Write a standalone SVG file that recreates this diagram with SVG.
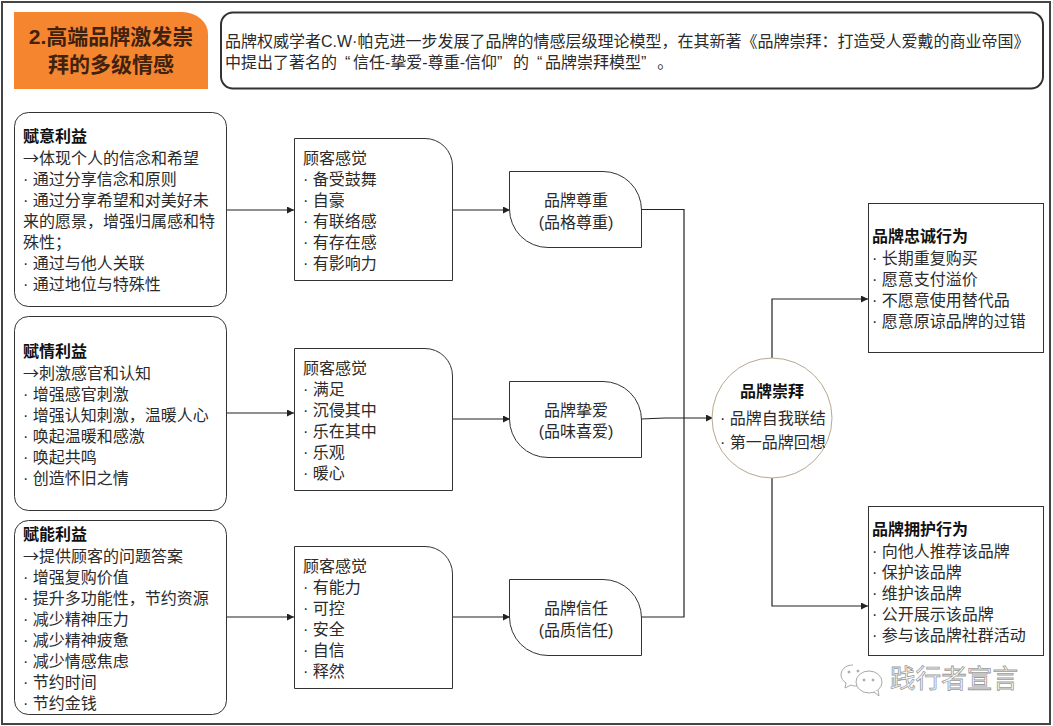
<svg xmlns="http://www.w3.org/2000/svg" width="1053" height="726" viewBox="0 0 1053 726">
<style>
text{font-family:"Liberation Sans","Noto Sans CJK SC",sans-serif;font-size:16px;fill:#2b2b2b}
.b{font-weight:700;fill:#111}
.box{fill:#fff;stroke:#333;stroke-width:1}
.c{fill:none;stroke:#222;stroke-width:1.2}
.t{text-anchor:middle}
.h{font-size:21px;font-weight:700;fill:#40220f;text-anchor:middle}
.r{font-family:"Noto Sans CJK SC",sans-serif}
</style>
<defs><marker id="a" markerWidth="8" markerHeight="8" refX="7" refY="3.500" orient="auto" markerUnits="userSpaceOnUse"><path d="M0 0L7 3.500L0 7z" fill="#222"/></marker></defs>
<rect width="1053" height="726" fill="#fff"/>
<rect x="2" y="2" width="1048" height="722" fill="none" stroke="#444" stroke-width="2"/>
<g id="title"><path d="M14 12H182A26 22 0 0 1 208 34V89H14Z" fill="#f5852f"/>
<text class="h" x="111" y="44">2.高端品牌激发崇</text>
<text class="h" x="111" y="72">拜的多级情感</text></g>
<g id="intro"><rect x="221" y="12.500" width="822" height="76" rx="12" fill="#fff" stroke="#333" stroke-width="2"/>
<text x="225" y="46.500">品牌权威学者C.W·帕克进一步发展了品牌的情感层级理论模型，在其新著《品牌崇拜：打造受人爱戴的商业帝国》</text>
<text x="225" y="68">中提出了著名的<tspan dx="8">“</tspan><tspan dx="2.700">信任-挚爱-尊重-信仰”</tspan><tspan dx="10.700">的</tspan><tspan dx="8">“</tspan><tspan dx="2.700">品牌崇拜模型”</tspan><tspan dx="10.700">。</tspan></text></g>
<g id="connectors">
<path class="c" marker-end="url(#a)" d="M227 210H294"/>
<path class="c" marker-end="url(#a)" d="M452 210H510"/>
<path class="c" marker-end="url(#a)" d="M227 413H294"/>
<path class="c" marker-end="url(#a)" d="M452 419H510"/>
<path class="c" marker-end="url(#a)" d="M227 617H294"/>
<path class="c" marker-end="url(#a)" d="M452 617H510"/>
<path class="c" d="M641 209.500H684V617H641"/>
<path class="c" marker-end="url(#a)" d="M641 419L665 418H713"/>
<path class="c" marker-end="url(#a)" d="M772 358V299H868"/>
<path class="c" marker-end="url(#a)" d="M772 478V606H868"/>
</g>
<g id="n1"><rect class="box" x="14.500" y="112.500" width="212" height="194" rx="14"/>
<text x="23" y="142" class="b">赋意利益</text><text x="23" y="164" class="r">→体现个人的信念和希望</text><text x="23" y="185">· 通过分享信念和原则</text><text x="23" y="206">· 通过分享希望和对美好未</text><text x="23" y="227">来的愿景，增强归属感和特</text><text x="23" y="248">殊性；</text><text x="23" y="269">· 通过与他人关联</text><text x="23" y="290">· 通过地位与特殊性</text></g>
<g id="n2"><rect class="box" x="14.500" y="316.500" width="212" height="194" rx="14"/>
<text x="23" y="357" class="b">赋情利益</text><text x="23" y="379" class="r">→刺激感官和认知</text><text x="23" y="400">· 增强感官刺激</text><text x="23" y="421">· 增强认知刺激，温暖人心</text><text x="23" y="442">· 唤起温暖和感激</text><text x="23" y="463">· 唤起共鸣</text><text x="23" y="484">· 创造怀旧之情</text></g>
<g id="n3"><rect class="box" x="14.500" y="520.500" width="212" height="194" rx="14"/>
<text x="23" y="540" class="b">赋能利益</text><text x="23" y="562" class="r">→提供顾客的问题答案</text><text x="23" y="583">· 增强复购价值</text><text x="23" y="604">· 提升多功能性，节约资源</text><text x="23" y="625">· 减少精神压力</text><text x="23" y="646">· 减少精神疲惫</text><text x="23" y="667">· 减少情感焦虑</text><text x="23" y="688">· 节约时间</text><text x="23" y="709">· 节约金钱</text></g>
<g id="f1"><path class="box" d="M294.500 138.500H425A27.500 27.500 0 0 1 452.500 166V280.500H294.500Z"/>
<text x="303" y="164">顾客感觉</text><text x="303" y="185">· 备受鼓舞</text><text x="303" y="206">· 自豪</text><text x="303" y="227">· 有联络感</text><text x="303" y="248">· 有存在感</text><text x="303" y="269">· 有影响力</text></g>
<g id="f2"><path class="box" d="M294.500 348.500H425A27.500 27.500 0 0 1 452.500 376V490.500H294.500Z"/>
<text x="303" y="374">顾客感觉</text><text x="303" y="395">· 满足</text><text x="303" y="416">· 沉侵其中</text><text x="303" y="437">· 乐在其中</text><text x="303" y="458">· 乐观</text><text x="303" y="479">· 暖心</text></g>
<g id="f3"><path class="box" d="M294.500 546.500H425A27.500 27.500 0 0 1 452.500 574V688.500H294.500Z"/>
<text x="303" y="572">顾客感觉</text><text x="303" y="593">· 有能力</text><text x="303" y="614">· 可控</text><text x="303" y="635">· 安全</text><text x="303" y="656">· 自信</text><text x="303" y="677">· 释然</text></g>
<g id="p1"><path class="box" d="M509.500 171.500H603A38.500 38.500 0 0 1 641.500 210V247.500H548A38.500 38.500 0 0 1 509.500 209Z"/>
<text class="t" x="576" y="206">品牌尊重</text><text class="t" x="576" y="228">(品格尊重)</text></g>
<g id="p2"><path class="box" d="M509.500 381.500H603A38.500 38.500 0 0 1 641.500 420V457.500H548A38.500 38.500 0 0 1 509.500 419Z"/>
<text class="t" x="576" y="416">品牌挚爱</text><text class="t" x="576" y="437">(品味喜爱)</text></g>
<g id="p3"><path class="box" d="M509.500 579.500H603A38.500 38.500 0 0 1 641.500 618V655.500H548A38.500 38.500 0 0 1 509.500 617Z"/>
<text class="t" x="576" y="614">品牌信任</text><text class="t" x="576" y="636">(品质信任)</text></g>
<g id="worship"><circle cx="772" cy="418" r="60" fill="#fff" stroke="#b8a88f" stroke-width="1"/>
<text class="b t" x="772" y="397">品牌崇拜</text><text x="720" y="424">· 品牌自我联结</text><text x="720" y="448">· 第一品牌回想</text></g>
<g id="loyal"><rect class="box" x="868.500" y="203.500" width="175" height="149"/>
<text x="872" y="242" class="b">品牌忠诚行为</text><text x="872" y="264">· 长期重复购买</text><text x="872" y="285">· 愿意支付溢价</text><text x="872" y="306">· 不愿意使用替代品</text><text x="872" y="327">· 愿意原谅品牌的过错</text></g>
<g id="defend"><rect class="box" x="868.500" y="506.500" width="175" height="149"/>
<text x="872" y="535" class="b">品牌拥护行为</text><text x="872" y="557">· 向他人推荐该品牌</text><text x="872" y="578">· 保护该品牌</text><text x="872" y="599">· 维护该品牌</text><text x="872" y="620">· 公开展示该品牌</text><text x="872" y="641">· 参与该品牌社群活动</text></g>
<g id="watermark" fill="#fff" stroke="#a8a8a8" stroke-width="1">
<path d="M853 665C845 665 841 670 841 675C841 678 843 681 846 683L845 688L851 685C853 686 855 686 857 686"/>
<ellipse cx="869" cy="682" rx="13" ry="11"/><path d="M874 692L879 696L878 690" />
<circle cx="864" cy="680" r="1" fill="#a8a8a8"/><circle cx="873" cy="680" r="1" fill="#a8a8a8"/>
<circle cx="849" cy="672" r="1" fill="#a8a8a8"/><circle cx="858" cy="671" r="1" fill="#a8a8a8"/>
</g>
<text x="890" y="688" style="font-size:25.600px;fill:#fff;stroke:#9a9a9a;stroke-width:.8">践行者宣言</text>
</svg>
